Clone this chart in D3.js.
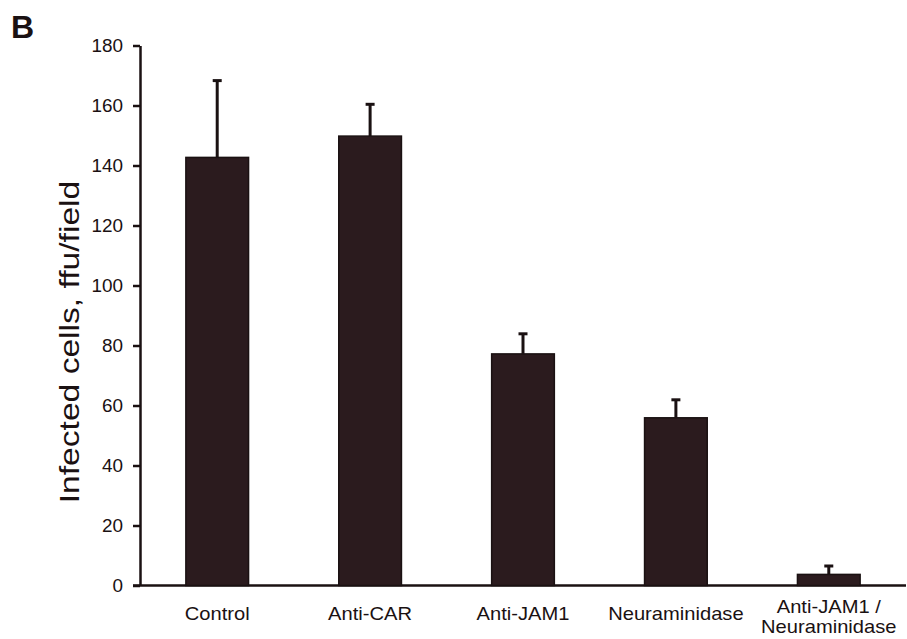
<!DOCTYPE html>
<html>
<head>
<meta charset="utf-8">
<script src="https://cdn.jsdelivr.net/npm/d3@7"></script>
<style>
  html, body { margin: 0; padding: 0; background: #fff; }
  svg { display: block; font-family: "Liberation Sans", Arial, Helvetica, sans-serif; }
</style>
</head>
<body>
<svg id="chart" width="907" height="639"></svg>
<script>
// Infected cells per field for each treatment (mean and upper error)
const categories = [["Control"], ["Anti-CAR"], ["Anti-JAM1"], ["Neuraminidase"], ["Anti-JAM1 /", "Neuraminidase"]];
const means = [142.7, 149.8, 77.2, 55.9, 3.7];
const errors = [25.6, 10.6, 6.7, 6.0, 2.8];
const yTicks = [0, 20, 40, 60, 80, 100, 120, 140, 160, 180];

const svg = d3.select("#chart");
const ink = "#1a1112";
const barFill = "#2b1b1e";

// Widen a text element's glyphs by a factor (the typeface is a wide grotesque)
function widen(sel, factor) {
  sel.each(function () {
    const w = this.getComputedTextLength();
    d3.select(this).attr("textLength", w * factor).attr("lengthAdjust", "spacingAndGlyphs");
  });
}

const x = d3.scaleBand()
  .domain(d3.range(categories.length))
  .range([140, 906])
  .paddingInner(0.59)
  .paddingOuter(0.3);

const y = d3.scaleLinear().domain([0, 180]).range([585.5, 45.5]);

// Panel letter
svg.append("text")
  .attr("x", 11).attr("y", 38)
  .attr("font-size", 32).attr("font-weight", "bold")
  .attr("fill", ink)
  .text("B");

// Y axis
const yAxis = svg.append("g")
  .attr("transform", "translate(140,0)")
  .call(d3.axisLeft(y).tickValues(yTicks).tickSize(7).tickPadding(10).tickSizeOuter(0));
yAxis.select(".domain").attr("stroke", ink).attr("stroke-width", 2.5);
yAxis.selectAll(".tick line").attr("stroke", ink).attr("stroke-width", 2.5);
yAxis.selectAll(".tick text")
  .attr("font-size", 18).attr("fill", ink)
  .attr("font-family", "Liberation Sans, Arial, sans-serif")
  .call(widen, 1.05);

// Baseline
svg.append("line")
  .attr("x1", 133).attr("x2", 906)
  .attr("y1", y(0)).attr("y2", y(0))
  .attr("stroke", ink).attr("stroke-width", 2.5);

// Error bars (upper only)
const err = svg.append("g");
means.forEach((m, i) => {
  const cx = x(i) + x.bandwidth() / 2;
  err.append("line")
    .attr("x1", cx).attr("x2", cx)
    .attr("y1", y(m)).attr("y2", y(m + errors[i]))
    .attr("stroke", ink).attr("stroke-width", 3);
  err.append("line")
    .attr("x1", cx - 4.5).attr("x2", cx + 4.5)
    .attr("y1", y(m + errors[i])).attr("y2", y(m + errors[i]))
    .attr("stroke", ink).attr("stroke-width", 3);
});

// Bars
svg.append("g").selectAll("rect")
  .data(means)
  .join("rect")
  .attr("x", (d, i) => x(i))
  .attr("y", d => y(d))
  .attr("width", x.bandwidth())
  .attr("height", d => y(0) - y(d))
  .attr("fill", barFill)
  .attr("stroke", ink)
  .attr("stroke-width", 1.5);

// Category labels
const labels = svg.append("g")
  .attr("font-size", 19).attr("fill", ink).attr("text-anchor", "middle");
categories.forEach((lines, i) => {
  const cx = x(i) + x.bandwidth() / 2;
  lines.forEach((s, k) => {
    const yy = lines.length > 1 ? 613 + k * 20 : 620;
    labels.append("text").attr("x", cx).attr("y", yy).text(s).call(widen, 1.06);
  });
});

// Y axis title
svg.append("text")
  .attr("transform", "translate(79,342) rotate(-90)")
  .attr("text-anchor", "middle")
  .attr("font-size", 28).attr("fill", ink)
  .text("Infected cells, ffu/field")
  .call(widen, 1.2);
</script>
</body>
</html>
